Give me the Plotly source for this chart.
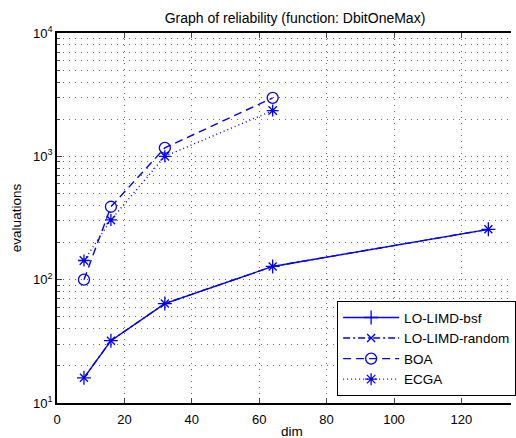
import plotly.graph_objects as go

dims = [8, 16, 32, 64, 128]
bsf = [16, 32, 64, 128, 256]
random_ = [16, 32, 64, 128, 256]
boa_dims = [8, 16, 32, 64]
boa = [100, 390, 1170, 2980]
ecga_dims = [8, 16, 32, 64]
ecga = [143, 305, 1000, 2350]

x_ticks = [0, 20, 40, 60, 80, 100, 120, 140]
y_ticks = [10, 100, 1000, 10000]
y_ticktext = ["10<sup>1</sup>", "10<sup>2</sup>", "10<sup>3</sup>", "10<sup>4</sup>"]
y_minor = [m * d for d in [10, 100, 1000] for m in range(2, 10)]

BLUE = "#0000ff"
FONT = "Liberation Sans, Arial, sans-serif"

fig = go.Figure()
fig.add_trace(go.Scatter(x=dims, y=bsf, name="LO-LIMD-bsf", mode="lines+markers",
                         line=dict(color=BLUE, width=1.4, dash="solid"),
                         marker=dict(symbol="cross-thin-open", size=10, line=dict(color=BLUE, width=1.3))))
fig.add_trace(go.Scatter(x=dims, y=random_, name="LO-LIMD-random", mode="lines+markers",
                         line=dict(color=BLUE, width=1.4, dash="7px,3px,2px,3px"),
                         marker=dict(symbol="x-thin-open", size=8, line=dict(color=BLUE, width=1.3))))
fig.add_trace(go.Scatter(x=boa_dims, y=boa, name="BOA", mode="lines+markers",
                         line=dict(color=BLUE, width=1.4, dash="8px,5px"),
                         marker=dict(symbol="circle-open", size=11, line=dict(color=BLUE, width=1.3))))
fig.add_trace(go.Scatter(x=ecga_dims, y=ecga, name="ECGA", mode="lines+markers",
                         line=dict(color=BLUE, width=1.4, dash="1px,3px"),
                         marker=dict(symbol="asterisk-open", size=10, line=dict(color=BLUE, width=1.3))))

grid_dash = "1px,5px"
grid_col = "#666666"

fig.update_layout(
    width=516, height=438,
    margin=dict(l=57, r=0, t=33, b=35),
    paper_bgcolor="white", plot_bgcolor="white",
    font=dict(family=FONT, size=13, color="black"),
    title=dict(text="Graph of reliability (function: DbitOneMax)", x=295/516, xref="container",
               xanchor="center", y=1 - 18/438, yref="container", yanchor="middle",
               font=dict(size=14, family=FONT)),
    showlegend=True,
    legend=dict(x=(340-57)/459, xanchor="left", y=(403-396)/370, yanchor="bottom",
                bordercolor="black", borderwidth=1.2, bgcolor="white",
                font=dict(size=13.5, family=FONT), tracegroupgap=0, itemwidth=56),
    xaxis=dict(range=[0, 140*459/477], tickvals=x_ticks, ticks="inside", ticklen=5,
               showline=True, linecolor="black", linewidth=1.5, mirror="ticks",
               showgrid=True, gridcolor=grid_col, griddash=grid_dash, gridwidth=1,
               zeroline=False, tickfont=dict(size=13), ticklabelstandoff=4),
    yaxis=dict(type="log", range=[1, 4], tickvals=y_ticks, ticktext=y_ticktext,
               ticks="inside", ticklen=5, showline=True, linecolor="black", linewidth=1.5,
               showgrid=True, gridcolor=grid_col, griddash=grid_dash, gridwidth=1,
               zeroline=False, tickfont=dict(size=13),
               title=dict(text="evaluations", font=dict(size=13.5), standoff=8),
               minor=dict(tickmode="array", tickvals=y_minor, ticks="inside", ticklen=3,
                          showgrid=True, gridcolor=grid_col, griddash=grid_dash, gridwidth=1)),
)

fig.add_annotation(text="dim", x=(295-57)/459, xref="paper", y=-28/370, yref="paper",
                   showarrow=False, font=dict(size=13.5, family=FONT), xanchor="center", yanchor="middle")

fig.write_html("out.html")
